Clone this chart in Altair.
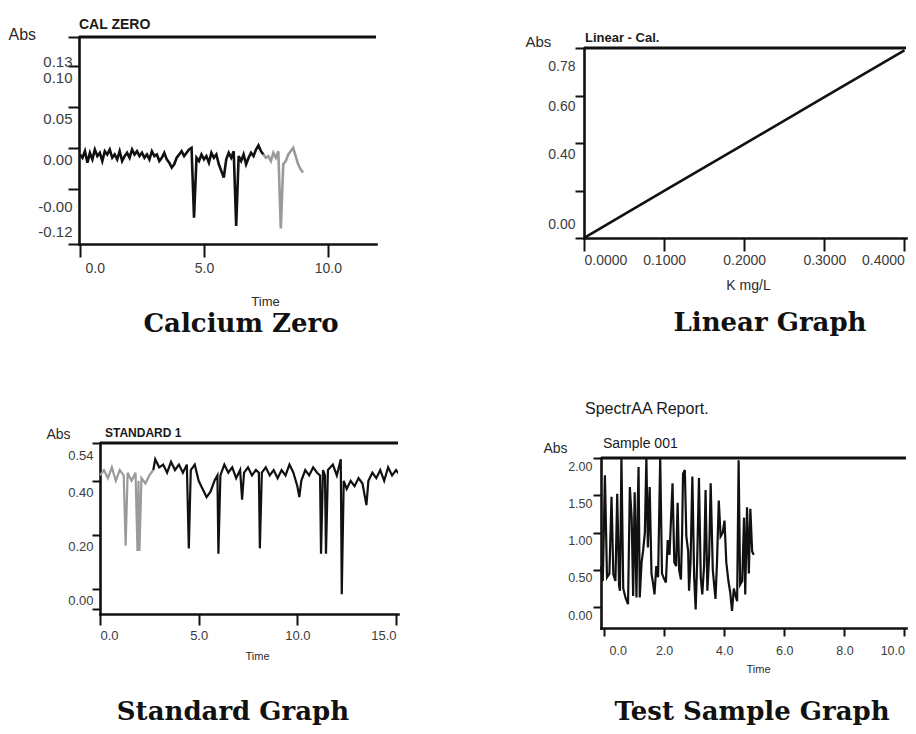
import json
import altair as alt
import pandas as pd

# ---------------- data ----------------
# Calcium Zero (CAL ZERO)
p1_time = [0.0, 0.1, 0.2, 0.3, 0.4, 0.5, 0.6, 0.7, 0.8, 0.9,
           1.0, 1.1, 1.2, 1.3, 1.4, 1.5, 1.6, 1.7, 1.8, 1.9,
           2.0, 2.1, 2.2, 2.3, 2.4, 2.5, 2.6, 2.7, 2.8, 2.9,
           3.0, 3.1, 3.2, 3.3, 3.4, 3.5, 3.6, 3.7, 3.8, 3.9,
           4.0, 4.1, 4.2, 4.3, 4.4, 4.5, 4.6, 4.7, 4.8, 4.9,
           5.0, 5.1, 5.2, 5.3, 5.4, 5.5, 5.6, 5.7, 5.8, 5.9,
           6.0, 6.1, 6.2, 6.3, 6.4, 6.5, 6.6, 6.7, 6.8, 6.9,
           7.0, 7.1, 7.2, 7.3, 7.4, 7.5, 7.6, 7.7, 7.8, 7.9,
           8.0, 8.1, 8.2, 8.3, 8.4, 8.5, 8.6, 8.7, 8.8, 8.9,
           9.0]
p1_abs = [-0.008, -0.012, -0.004, -0.018, -0.006, -0.014, -0.002, -0.010, -0.006, -0.016,
          -0.004, -0.008, -0.002, -0.012, -0.008, -0.014, -0.004, -0.016, -0.010, -0.006,
          -0.012, -0.002, -0.008, -0.004, -0.010, -0.006, -0.012, -0.008, -0.014, -0.004,
          -0.010, -0.008, -0.016, -0.012, -0.006, -0.014, -0.018, -0.024, -0.020, -0.012,
          -0.008, -0.004, -0.010, -0.006, -0.002, 0.000, -0.085, -0.012, -0.016, -0.008,
          -0.014, -0.010, -0.018, -0.006, -0.012, -0.008, -0.020, -0.028, -0.036, -0.014,
          -0.006, -0.012, -0.004, -0.095, -0.010, -0.016, -0.008, -0.020, -0.012, -0.006,
          -0.010, -0.002, 0.003, -0.004, -0.008, -0.012, -0.010, -0.016, -0.006, -0.012,
          -0.004, -0.098, -0.020, -0.016, -0.008, -0.004, 0.000, -0.010, -0.020, -0.026,
          -0.030]
p1_fade_from = 7.4
p1_y_ticks = [0.135, 0.10, 0.05, 0.00, -0.05, -0.117]
p1_y_labels = ["0.13", "0.10", "0.05", "0.00", "-0.00", "-0.12"]
p1_x_ticks = [0.0, 5.0, 10.0]

# Linear graph (Linear - Cal.)
p2_conc = [0.0, 0.1, 0.2, 0.3, 0.4]
p2_abs = [0.0, 0.198, 0.395, 0.593, 0.79]
p2_y_ticks = [0.0, 0.2, 0.4, 0.6, 0.8]
p2_y_labels = ["0.00", "", "0.40", "0.60", "0.78"]
p2_x_ticks = [0.0, 0.1, 0.2, 0.3, 0.4]

# Standard graph (STANDARD 1)
p3_time = [0.0, 0.2, 0.4, 0.6, 0.8, 1.0, 1.2, 1.3, 1.4, 1.6, 1.8, 1.9, 1.95, 2.0, 2.1,
           2.3, 2.5, 2.7, 2.8, 3.0, 3.2, 3.4, 3.6, 3.8, 4.0, 4.2, 4.4, 4.5, 4.6, 4.8,
           5.0, 5.2, 5.4, 5.6, 5.8, 5.95, 6.0, 6.1, 6.3, 6.5, 6.7, 6.9, 7.1, 7.2, 7.3,
           7.5, 7.7, 7.9, 8.05, 8.1, 8.2, 8.4, 8.6, 8.8, 9.0, 9.2, 9.4, 9.6, 9.8, 10.0,
           10.1, 10.2, 10.4, 10.6, 10.8, 11.0, 11.15, 11.2, 11.3, 11.4, 11.45, 11.55, 11.8, 12.0, 12.2,
           12.25, 12.35, 12.5, 12.7, 12.9, 13.1, 13.3, 13.5, 13.6, 13.8, 14.0, 14.2, 14.4, 14.6, 14.8,
           15.0, 15.2]
p3_abs = [0.42, 0.44, 0.41, 0.45, 0.40, 0.44, 0.42, 0.16, 0.43, 0.40, 0.43, 0.14, 0.40, 0.14, 0.41,
          0.39, 0.42, 0.44, 0.48, 0.45, 0.46, 0.43, 0.47, 0.44, 0.46, 0.43, 0.46, 0.15, 0.44, 0.46,
          0.40, 0.37, 0.34, 0.36, 0.40, 0.42, 0.13, 0.42, 0.46, 0.43, 0.45, 0.41, 0.44, 0.33, 0.43,
          0.45, 0.42, 0.44, 0.43, 0.15, 0.43, 0.45, 0.42, 0.44, 0.41, 0.44, 0.42, 0.46, 0.43, 0.38,
          0.34, 0.40, 0.44, 0.42, 0.45, 0.43, 0.42, 0.13, 0.44, 0.42, 0.13, 0.44, 0.46, 0.42, 0.48,
          -0.02, 0.40, 0.37, 0.40, 0.38, 0.41, 0.39, 0.31, 0.40, 0.43, 0.41, 0.44, 0.40, 0.45, 0.42,
          0.44, 0.42]
p3_dark_from = 2.7
p3_y_ticks = [0.54, 0.40, 0.20, 0.00, -0.074]
p3_y_labels = ["0.54", "0.40", "0.20", "0.00", ""]
p3_x_ticks = [0.0, 5.0, 10.0, 15.0]

# Test sample graph (Sample 001)
p4_time = [-0.10, -0.04, 0.03, 0.10, 0.18, 0.25, 0.31, 0.38, 0.44, 0.50,
           0.53, 0.58, 0.64, 0.72, 0.80, 0.86, 0.92, 0.97, 1.02, 1.08,
           1.12, 1.15, 1.19, 1.25, 1.30, 1.36, 1.41, 1.46, 1.52, 1.58,
           1.64, 1.68, 1.74, 1.80, 1.87, 1.93, 2.00, 2.06, 2.12, 2.18,
           2.28, 2.34, 2.40, 2.45, 2.50, 2.56, 2.60, 2.63, 2.69, 2.74,
           2.80, 2.83, 2.88, 2.94, 3.00, 3.05, 3.10, 3.16, 3.22, 3.27,
           3.33, 3.38, 3.44, 3.50, 3.55, 3.62, 3.71, 3.76, 3.82, 3.88,
           3.95, 4.01, 4.07, 4.14, 4.20, 4.26, 4.32, 4.38, 4.43, 4.48,
           4.53, 4.60, 4.66, 4.70, 4.76, 4.82, 4.87, 4.93, 4.98]
p4_abs = [0.55, 0.35, 1.77, 0.40, 0.45, 1.48, 0.44, 0.35, 1.52, 0.30,
          0.22, 2.00, 0.25, 0.12, 0.04, 1.61, 1.20, 0.15, 1.54, 0.13,
          1.30, 1.88, 0.13, 0.60, 0.75, 1.00, 2.00, 0.80, 1.61, 0.45,
          0.30, 0.17, 0.55, 0.40, 2.00, 0.45, 0.38, 0.33, 0.90, 0.70,
          1.66, 0.60, 0.55, 1.40, 0.50, 0.37, 1.00, 1.79, 1.84, 0.95,
          0.75, 0.22, 0.60, 1.75, 0.40, -0.03, 0.60, 1.73, 0.40, 0.17,
          0.55, 1.57, 0.22, 0.70, 1.66, 0.50, 0.11, 0.60, 1.43, 0.95,
          1.00, 1.16, 0.60, 0.35, 0.20, -0.05, 0.25, 0.15, 0.08, 1.97,
          0.30, 0.35, 1.20, 0.17, 1.34, 0.45, 1.32, 0.75, 0.70]
p4_y_ticks = [0.0, 0.5, 1.0, 1.5, 2.0]
p4_y_labels = ["0.00", "0.50", "1.00", "1.50", "2.00"]
p4_x_ticks = [0.0, 2.0, 4.0, 6.0, 8.0, 10.0]

# ---------------- styling helpers ----------------
SANS = "Liberation Sans, Arial, sans-serif"
SERIF = "DejaVu Serif, serif"
INK = "#111111"
LABEL = "#3c3c3c"

seg_scale = alt.Scale(domain=["dark", "light"], range=[INK, "#9a9a9a"])


def label_expr(vals, labs):
    return f"{json.dumps(labs)}[indexof({json.dumps(vals)}, datum.value)]"


def cond_offset(default, special):
    if not special:
        return default
    return {"condition": [{"test": f"datum.value == {v}", "value": o} for v, o in special],
            "value": default}


def y_axis(vals, labs, tx, ty, title_size, label_size, pad, offset_spec, tick, off=0):
    return alt.Axis(values=vals, labelExpr=label_expr(vals, labs), title="Abs",
                    titleAngle=0, titleAlign="left", titleBaseline="middle",
                    titleX=tx, titleY=ty, titleFont=SANS, titleFontSize=title_size,
                    titleFontWeight="normal", titleColor="#2a2a2a",
                    labelFont=SANS, labelFontSize=label_size, labelColor=LABEL,
                    labelPadding=pad, labelOffset=offset_spec, labelFlush=False,
                    labelOverlap=False, labelBaseline="middle",
                    tickSize=tick, tickWidth=2, tickColor=INK,
                    domainColor=INK, domainWidth=2.6, domainCap="square",
                    grid=False, offset=off)


def x_axis(vals, fmt, title, tx, ty, title_size, label_size, pad, tick, flush, offset_spec=0):
    return alt.Axis(values=vals, format=fmt, title=title,
                    titleX=tx, titleY=ty, titleAlign="center", titleBaseline="middle",
                    titleFont=SANS, titleFontSize=title_size, titleFontWeight="normal",
                    titleColor="#2a2a2a",
                    labelFont=SANS, labelFontSize=label_size, labelColor=LABEL,
                    labelPadding=pad, labelFlush=flush, labelOverlap=False,
                    labelOffset=offset_spec,
                    tickSize=tick, tickWidth=2, tickColor=INK,
                    domainColor=INK, domainWidth=2.6, domainCap="square", grid=False)


def text_layer(txt, x, y, size, weight="normal", font=SANS, align="left", color="#1a1a1a"):
    return alt.Chart(pd.DataFrame({"s": [txt]})).mark_text(
        align=align, baseline="middle", font=font, fontSize=size,
        fontWeight=weight, color=color
    ).encode(x=alt.value(x), y=alt.value(y), text="s:N")


def top_rule(x0, x1, y0):
    return alt.Chart(pd.DataFrame({"s": [0]})).mark_rule(
        color=INK, strokeWidth=3
    ).encode(x=alt.value(x0), x2=alt.value(x1), y=alt.value(y0))


CAP = 26  # caption font size

# ---------------- panel 1: Calcium Zero ----------------
d1 = pd.DataFrame({"t": p1_time, "a": p1_abs})
d1 = pd.concat([d1[d1.t <= p1_fade_from].assign(seg="dark"),
                d1[d1.t >= p1_fade_from].assign(seg="light")])
W1, H1 = 297, 207
line1 = alt.Chart(d1).mark_line(strokeWidth=2.6, clip=True).encode(
    x=alt.X("t:Q", scale=alt.Scale(domain=[-0.04, 11.94], nice=False, zero=False),
            axis=x_axis(p1_x_ticks, ".1f", "Time", 186, 57, 13, 14, 4, 13, 3,
                        cond_offset(0, [(0.0, 5)]))),
    y=alt.Y("a:Q", scale=alt.Scale(domain=[-0.117, 0.135], nice=False, zero=False),
            axis=y_axis(p1_y_ticks, p1_y_labels, -71, -3, 16, 15, -4,
                        cond_offset(12, [(0.135, 24), (-0.05, 18), (-0.117, -13)]), 11)),
    color=alt.Color("seg:N", scale=seg_scale, legend=None),
)
panel1 = alt.layer(
    line1, top_rule(0, W1, 0),
    text_layer("CAL ZERO", 0, -12, 14, "bold"),
    text_layer("Calcium Zero", 162, 287, CAP, "bold", SERIF, "center", "#111"),
).properties(width=W1, height=H1)

# ---------------- panel 2: Linear Graph ----------------
d2 = pd.DataFrame({"k": p2_conc, "a": p2_abs})
W2, H2 = 322, 201
line2 = alt.Chart(d2).mark_line(strokeWidth=2.6, color=INK, clip=True).encode(
    x=alt.X("k:Q", scale=alt.Scale(domain=[0, 0.402], nice=False, zero=False),
            axis=x_axis(p2_x_ticks, ".4f", "K mg/L", 164, 47, 14, 14, 2, 13, 4)),
    y=alt.Y("a:Q", scale=alt.Scale(domain=[0, 0.8], range=[H2, 11], nice=False, zero=False),
            axis=y_axis(p2_y_ticks, p2_y_labels, -59, 4, 15, 14, 0,
                        cond_offset(11, [(0.0, -14), (0.8, 18)]), 9)),
)
panel2 = alt.layer(
    line2, top_rule(0, W2, 11),
    text_layer("Linear - Cal.", 1, 1, 13, "bold"),
    text_layer("Linear Graph", 186, 286, CAP, "bold", SERIF, "center", "#111"),
).properties(width=W2, height=H2)

# ---------------- panel 3: Standard Graph ----------------
d3 = pd.DataFrame({"t": p3_time, "a": p3_abs})
d3 = pd.concat([d3[d3.t <= p3_dark_from].assign(seg="light"),
                d3[d3.t >= p3_dark_from].assign(seg="dark")])
W3, H3 = 319, 171
line3 = alt.Chart(d3).mark_line(strokeWidth=2.2, clip=True).encode(
    x=alt.X("t:Q", scale=alt.Scale(domain=[0, 15.1], range=[21, W3], nice=False, zero=False),
            axis=x_axis(p3_x_ticks, ".1f", "Time", 178, 42, 11, 13, 4, 11, 3)),
    y=alt.Y("a:Q", scale=alt.Scale(domain=[-0.093, 0.54], nice=False, zero=False),
            axis=y_axis(p3_y_ticks, p3_y_labels, -54, -9, 14, 13, -1,
                        cond_offset(12, [(-0.074, 0)]), 8, off=-21)),
    color=alt.Color("seg:N", scale=seg_scale, legend=None),
)
panel3 = alt.layer(
    line3, top_rule(21, W3, 0),
    text_layer("STANDARD 1", 26, -10, 12, "bold"),
    text_layer("Standard Graph", 154, 269, CAP, "bold", SERIF, "center", "#111"),
).properties(width=W3, height=H3)

# ---------------- panel 4: Test Sample Graph ----------------
d4 = pd.DataFrame({"t": p4_time, "a": p4_abs})
W4, H4 = 322, 185
line4 = alt.Chart(d4).mark_line(strokeWidth=2.2, color=INK, clip=True).encode(
    x=alt.X("t:Q", scale=alt.Scale(domain=[-0.1, 10.05], range=[17, W4], nice=False, zero=False),
            axis=x_axis(p4_x_ticks, ".1f", "Time", 174, 41, 11, 12.5, 8, 8, 4,
                        cond_offset(0, [(0.0, 5)]))),
    y=alt.Y("a:Q", scale=alt.Scale(domain=[-0.28, 2.0], range=[H4, 15], nice=False, zero=False),
            axis=y_axis(p4_y_ticks, p4_y_labels, -58, 5, 14, 12.5, 1, 8, 8, off=-17)),
)
panel4 = alt.layer(
    line4, top_rule(17, W4, 15),
    text_layer("Sample 001", 19, 1, 14),
    text_layer("SpectrAA Report.", 1, -34, 16),
    text_layer("Test Sample Graph", 168, 269, CAP, "bold", SERIF, "center", "#111"),
).properties(width=W4, height=H4)

chart = alt.concat(
    panel1, panel2, panel3, panel4,
    columns=2, spacing={"row": 199, "column": 186}, bounds="flush",
).properties(
    padding={"left": 0, "top": 10, "right": 0, "bottom": 0},
    background="white",
).configure_view(stroke=None)

chart.save("out.html", embed_options={"renderer": "svg", "actions": False})
